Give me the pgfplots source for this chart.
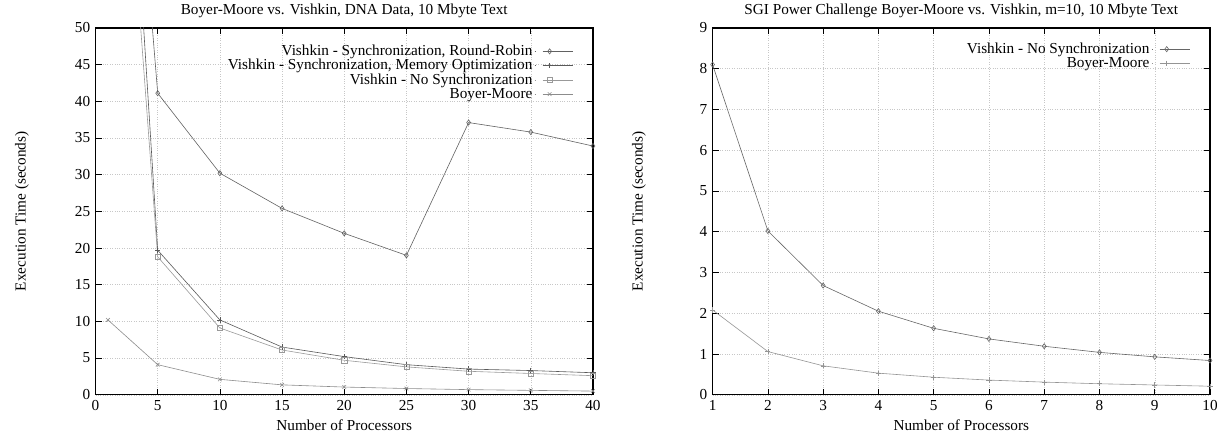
\documentclass[border=0pt]{standalone}
\usepackage{pgfplots}
\pgfplotsset{compat=1.18}
\usepackage{fontspec}
\setmainfont{Liberation Serif}
\begin{document}
\fontsize{15.3}{17}\selectfont
\pgfplotsset{
  gp/.style={
    scale only axis, width=499pt, height=368pt,
    axis line style={line width=1.2pt},
    tick align=inside, major tick length=6pt,
    tick style={black, line width=0.6pt},
    grid=major, grid style={dotted, black!22, line width=0.5pt},
    /pgf/number format/assume math mode=true,
    title style={at={(axis description cs:0.5,1.03)}, anchor=center},
    xlabel style={at={(axis description cs:0.5,-0.084)}, anchor=center},
    ylabel style={at={(axis description cs:-0.148,0.5)}, anchor=center},
    legend style={draw=none, fill=none, anchor=north east,
      cells={anchor=east}, row sep=-2.5pt, font=\fontsize{15.3}{16}\selectfont},
    legend plot pos=right,
    legend image code/.code={\path (0pt,0pt) -- (1pt,0pt); \draw[mark=none] (8pt,0pt) -- (38pt,0pt); \draw[only marks] plot coordinates {(15pt,0pt)};},
    every axis plot/.append style={line width=0.6pt, mark size=2.6pt, mark options={solid}},
  }
}
\begin{tikzpicture}[x=1pt,y=1pt]
\useasboundingbox (0,0) rectangle (1217,436);
\begin{axis}[gp, at={(92pt,40pt)}, anchor=origin,
  xmin=0, xmax=40, ymin=0, ymax=50,
  xtick={0,5,...,40}, ytick={0,5,...,50},
  title={Boyer-Moore vs. Vishkin, DNA Data, 10 Mbyte Text},
  xlabel={Number of Processors}, ylabel={Execution Time (seconds)},
  legend style={at={(axis description cs:0.966,0.965)}}]
\addplot[black!62, mark=diamond] coordinates {(1,124) (5,41.1) (10,30.2) (15,25.4) (20,22.0) (25,19.0) (30,37.1) (35,35.8) (40,33.9)};
\addlegendentry{Vishkin - Synchronization, Round-Robin}
\addplot[black!65, mark=+] coordinates {(1,127) (5,19.7) (10,10.2) (15,6.5) (20,5.2) (25,4.1) (30,3.5) (35,3.3) (40,3.0)};
\addlegendentry{Vishkin - Synchronization, Memory Optimization}
\addplot[black!40, mark=square] coordinates {(1,110) (5,18.8) (10,9.1) (15,6.1) (20,4.7) (25,3.8) (30,3.2) (35,2.9) (40,2.6)};
\addlegendentry{Vishkin - No Synchronization}
\addplot[black!45, mark=x] coordinates {(1,10.2) (5,4.1) (10,2.1) (15,1.35) (20,1.05) (25,0.85) (30,0.7) (35,0.6) (40,0.5)};
\addlegendentry{Boyer-Moore}
\end{axis}
\begin{axis}[gp, at={(711pt,40pt)}, anchor=origin,
  xmin=1, xmax=10, ymin=0, ymax=9,
  xtick={1,...,10}, ytick={0,...,9},
  title={SGI Power Challenge Boyer-Moore vs. Vishkin, m=10, 10 Mbyte Text},
  xlabel={Number of Processors}, ylabel={Execution Time (seconds)},
  legend style={at={(axis description cs:0.966,0.971)}}]
\addplot[black!60, mark=diamond] coordinates {(1,8.1) (2,4.02) (3,2.68) (4,2.05) (5,1.63) (6,1.37) (7,1.19) (8,1.04) (9,0.93) (10,0.84)};
\addlegendentry{Vishkin - No Synchronization}
\addplot[black!42, mark=+] coordinates {(1,2.08) (2,1.06) (3,0.71) (4,0.53) (5,0.43) (6,0.36) (7,0.31) (8,0.27) (9,0.24) (10,0.21)};
\addlegendentry{Boyer-Moore}
\end{axis}
\end{tikzpicture}
\end{document}
